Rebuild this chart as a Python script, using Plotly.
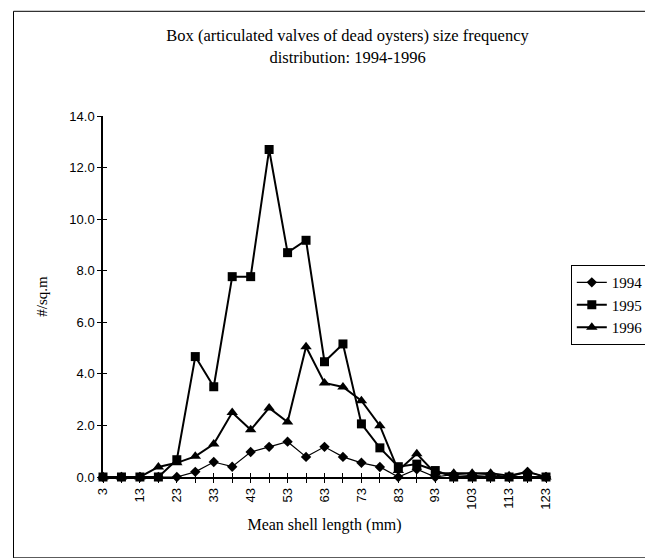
import plotly.graph_objects as go

# mean shell length classes (mm)
lengths = [3, 8, 13, 18, 23, 28, 33, 38, 43, 48, 53, 58, 63, 68, 73,
           78, 83, 88, 93, 98, 103, 108, 113, 118, 123]
tick_labels = [str(v) if i % 2 == 0 else "" for i, v in enumerate(lengths)]

y1994 = [0, 0, 0, 0, 0, 0.2, 0.58, 0.4, 0.97, 1.17, 1.37, 0.78, 1.17, 0.78, 0.55,
         0.39, 0, 0.3, 0, 0.1, 0.05, 0.1, 0, 0.2, 0]
y1995 = [0, 0, 0, 0, 0.67, 4.67, 3.5, 7.77, 7.77, 12.7, 8.7, 9.18, 4.47, 5.16, 2.06,
         1.13, 0.4, 0.5, 0.25, 0, 0, 0, 0, 0, 0]
y1996 = [0, 0, 0, 0.39, 0.55, 0.8, 1.28, 2.5, 1.83, 2.68, 2.13, 5.05, 3.65, 3.49, 2.96,
         1.99, 0.25, 0.9, 0.15, 0.15, 0.15, 0.15, 0.05, 0.2, 0]

serif = "Liberation Serif, Times New Roman, serif"
sans = "Liberation Sans, Arial, sans-serif"

fig = go.Figure()
fig.add_trace(go.Scatter(x=lengths, y=y1994, name="1994", mode="lines+markers",
                         line=dict(color="black", width=1.2),
                         marker=dict(symbol="diamond", size=8, color="black"),
                         cliponaxis=False))
fig.add_trace(go.Scatter(x=lengths, y=y1995, name="1995", mode="lines+markers",
                         line=dict(color="black", width=2),
                         marker=dict(symbol="square", size=9, color="black"),
                         cliponaxis=False))
fig.add_trace(go.Scatter(x=lengths, y=y1996, name="1996", mode="lines+markers",
                         line=dict(color="black", width=2),
                         marker=dict(symbol="triangle-up", size=10, color="black"),
                         cliponaxis=False))
# invisible trace on the overlay axes, so the crossing ticks get drawn
fig.add_trace(go.Scatter(x=lengths, y=y1995, xaxis="x2", yaxis="y2", mode="none",
                         showlegend=False, hoverinfo="skip"))

fig.update_layout(
    width=653, height=558,
    margin=dict(l=95, r=113, t=108, b=89),
    plot_bgcolor="white", paper_bgcolor="white",
    title=dict(text="Box (articulated valves of dead oysters) size frequency<br>distribution: 1994-1996",
               x=0.52, xanchor="center", y=0.94, yanchor="middle",
               font=dict(family=serif, size=16.5, color="black")),
    xaxis=dict(range=[3, 123], tickmode="array", tickvals=lengths, ticktext=tick_labels,
               tickangle=-90, ticks="outside", ticklen=4, tickcolor="black",
               showline=True, linecolor="black", linewidth=1.5, showgrid=False, zeroline=False,
               tickfont=dict(family=sans, size=13, color="black"),
               title=dict(text="Mean shell length (mm)", standoff=10,
                          font=dict(family=serif, size=16, color="black"))),
    yaxis=dict(range=[0, 14], dtick=2, tickformat=".1f", ticks="outside", ticklen=4,
               tickcolor="black", showline=True, linecolor="black", linewidth=1.5,
               showgrid=False, zeroline=False,
               tickfont=dict(family=sans, size=13, color="black"),
               title=dict(text="#/sq.m", standoff=18,
                          font=dict(family=serif, size=15, color="black"))),
    xaxis2=dict(overlaying="x", range=[3, 123], tickmode="array", tickvals=lengths,
                showticklabels=False, ticks="inside", ticklen=4, tickcolor="black",
                showgrid=False, zeroline=False, anchor="y"),
    yaxis2=dict(overlaying="y", range=[0, 14], dtick=2, showticklabels=False,
                ticks="inside", ticklen=4, tickcolor="black",
                showgrid=False, zeroline=False, anchor="x"),
    showlegend=True,
    legend=dict(x=1.056, y=0.587, xanchor="left", yanchor="top",
                bordercolor="black", borderwidth=1, bgcolor="white",
                font=dict(family=serif, size=15, color="black"),
                tracegroupgap=0, itemwidth=30),
)

# chart area frame
fig.add_shape(type="rect", xref="paper", yref="paper",
              x0=-0.202, x1=1.238, y0=-0.224, y1=1.29,
              line=dict(color="black", width=1), fillcolor="rgba(0,0,0,0)")

fig.write_html("out.html")
